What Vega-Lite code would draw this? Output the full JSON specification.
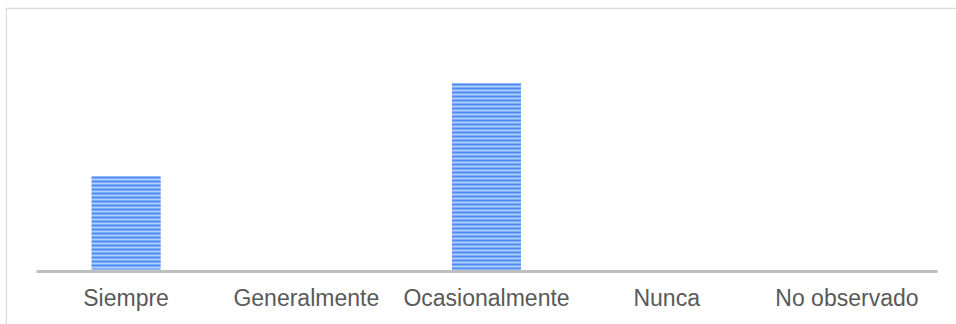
{
  "$schema": "https://vega.github.io/schema/vega-lite/v6.json",
  "autosize": "none",
  "width": 950,
  "height": 316,
  "padding": {"left": 6, "top": 8, "right": 0, "bottom": 0},
  "background": "white",
  "config": {
    "view": {"stroke": "#d9d9d9", "strokeWidth": 1.2, "strokeDash": [950, 1266, 316, 0]},
    "font": "Liberation Sans"
  },
  "data": {
    "values": [
      {"categoria": "Siempre", "frecuencia": 1},
      {"categoria": "Generalmente", "frecuencia": 0},
      {"categoria": "Ocasionalmente", "frecuencia": 2},
      {"categoria": "Nunca", "frecuencia": 0},
      {"categoria": "No observado", "frecuencia": 0}
    ]
  },
  "encoding": {
    "x": {
      "field": "categoria",
      "type": "nominal",
      "sort": null,
      "scale": {"range": [30, 931], "paddingInner": 0.617, "paddingOuter": 0.3085},
      "axis": {
        "title": null,
        "orient": "bottom",
        "offset": -53,
        "domainColor": "#bfbfbf",
        "domainWidth": 3,
        "ticks": false,
        "grid": false,
        "labelAngle": 0,
        "labelFont": "Liberation Sans",
        "labelFontSize": 23,
        "labelColor": "#595959",
        "labelBaseline": "alphabetic",
        "labelPadding": 34
      }
    },
    "y": {
      "field": "frecuencia",
      "type": "quantitative",
      "scale": {"domain": [0, 2], "range": [261.5, 75.5], "nice": false, "zero": true},
      "axis": null
    }
  },
  "layer": [
    {
      "mark": {"type": "bar", "fill": "#b3cef9", "stroke": null, "cornerRadius": 0}
    },
    {
      "mark": {
        "type": "rule",
        "color": "#4a8bf5",
        "strokeWidth": 69,
        "strokeDash": [2, 2],
        "strokeCap": "butt"
      },
      "encoding": {
        "y2": {"datum": 0}
      }
    }
  ]
}
